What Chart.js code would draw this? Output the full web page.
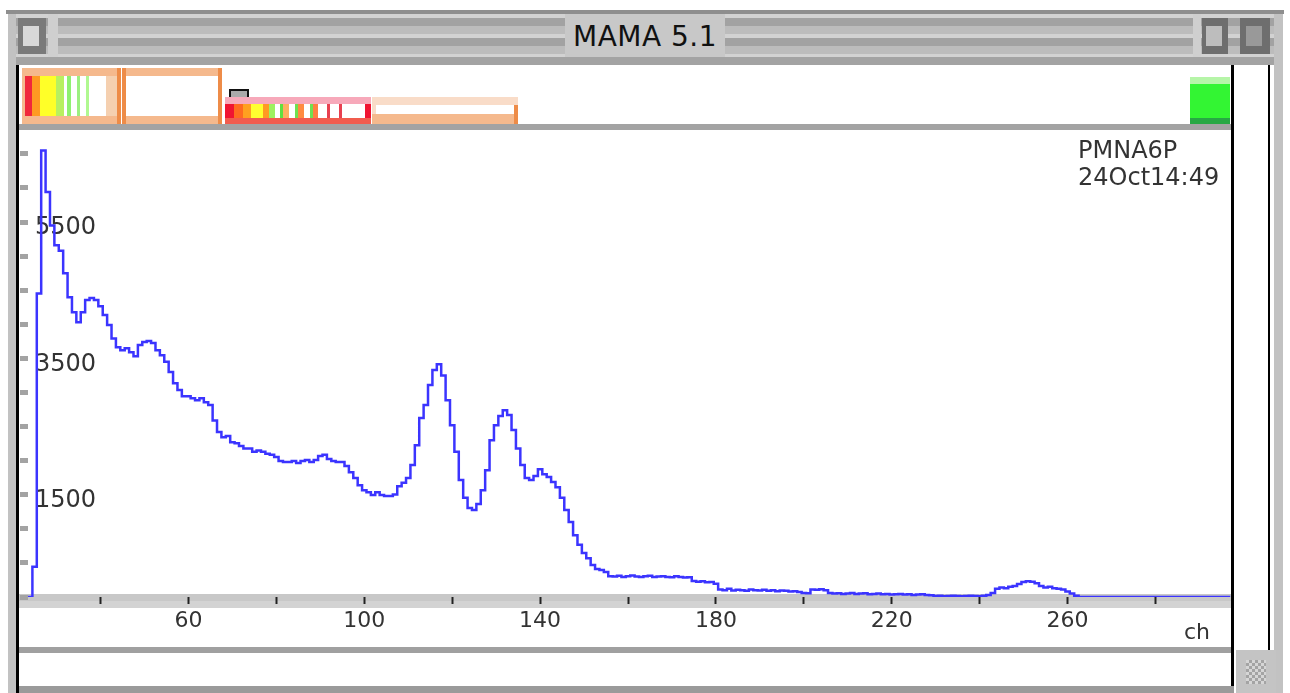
<!DOCTYPE html>
<html lang="en">
<head>
    <title>MAMA 5.1</title>
    <script src="https://cdn.jsdelivr.net/npm/chart.js"></script>
    <style>
        body { margin: 0; background: #fff; width: 1290px; height: 693px; overflow: hidden; position: relative; font-family: "DejaVu Sans", sans-serif; }
        .abs { position: absolute; }
        .stripes { background: repeating-linear-gradient(to bottom, #d2d2d2 0 4px, #a2a2a2 4px 12px, #bcbcbc 12px 20px); }
        #spectrum { position: absolute; left: 20px; top: 130px; z-index: 2; }
        .txt { position: absolute; color: #333; font-family: "DejaVu Sans", sans-serif; z-index: 3; }
    </style>
</head>
<body>
    <!-- window frame -->
    <div class="abs" style="left:6px;top:10px;width:1278px;height:4px;background:#8e8e8e"></div>
    <div class="abs" style="left:8px;top:14px;width:8px;height:679px;background:#c2c2c2"></div>
    <div class="abs" style="left:1274px;top:14px;width:9px;height:679px;background:#c2c2c2"></div>
    <div class="abs stripes" style="left:16px;top:14px;width:1258px;height:43px"></div>
    <div class="abs" style="left:18px;top:18px;width:28px;height:36px;background:#7a7a7a"></div>
    <div class="abs" style="left:23px;top:26px;width:16px;height:20px;background:#d8d8d8"></div>
    <div class="abs" style="left:48px;top:14px;width:10px;height:43px;background:#cfcfcf"></div>
    <div class="abs" style="left:565px;top:14px;width:160px;height:43px;background:#c8c8c8"></div>
    <div class="abs" style="left:565px;top:20px;width:160px;text-align:center;font-size:28px;color:#111;letter-spacing:0.5px">MAMA 5.1</div>
    <div class="abs" style="left:1193px;top:14px;width:8px;height:43px;background:#cfcfcf"></div>
    <div class="abs" style="left:1202px;top:18px;width:26px;height:36px;background:#6e6e6e"></div>
    <div class="abs" style="left:1206px;top:26px;width:16px;height:20px;background:#bdbdbd"></div>
    <div class="abs" style="left:1240px;top:18px;width:30px;height:36px;background:#6e6e6e"></div>
    <div class="abs" style="left:1246px;top:26px;width:16px;height:20px;background:#999"></div>
    <div class="abs" style="left:16px;top:57px;width:1258px;height:8px;background:#a3a3a3"></div>

    <!-- left and right borders -->
    <div class="abs" style="left:16px;top:65px;width:3px;height:628px;background:#000"></div>
    <div class="abs" style="left:1231px;top:65px;width:3px;height:628px;background:#000"></div>
    <div class="abs" style="left:1268px;top:65px;width:2px;height:585px;background:#000"></div>

    <!-- toolbar -->
    <div class="abs" style="left:22px;top:68px;width:98px;height:57px;background:#f5b98d"></div>
    <div class="abs" style="left:25px;top:76px;width:92px;height:40px;background:linear-gradient(to right,#f0283c 0 8%,#ff9a22 8% 16%,#ffff28 16% 34%,#b8f060 34% 42%,#fff 42% 46%,#8ef070 46% 50%,#fff 50% 56%,#9cf080 56% 60%,#fff 60% 66%,#b0f890 66% 70%,#fff 70% 88%,#f5d0b0 88% 100%)"></div>
    <div class="abs" style="left:117px;top:68px;width:4px;height:57px;background:#ee8c48"></div>
    <div class="abs" style="left:122px;top:68px;width:100px;height:57px;background:#f5b98d"></div>
    <div class="abs" style="left:126px;top:76px;width:92px;height:40px;background:#fff"></div>
    <div class="abs" style="left:122px;top:68px;width:4px;height:57px;background:#ee8c48"></div>
    <div class="abs" style="left:218px;top:68px;width:4px;height:57px;background:#ee8c48"></div>
    <div class="abs" style="left:229px;top:89px;width:16px;height:11px;border:2px solid #111;border-bottom:none;background:#aaa"></div>
    <div class="abs" style="left:225px;top:97px;width:146px;height:28px;background:#f7a9ba"></div>
    <div class="abs" style="left:225px;top:104px;width:146px;height:14px;background:linear-gradient(to right,#f01432 0 6%,#ff6a20 6% 12%,#ffa020 12% 18%,#ffff30 18% 26%,#ff9a22 26% 30%,#9ef060 30% 34%,#fff 34% 38%,#60e040 38% 40%,#ffb060 40% 44%,#fff 44% 48%,#70e050 48% 50%,#ff8a40 50% 54%,#fff 54% 58%,#6ee050 58% 60%,#ff8040 60% 64%,#fff 64% 70%,#e84050 70% 72%,#fff 72% 78%,#e84050 78% 80%,#fff 80% 96%,#f01432 96% 100%)"></div>
    <div class="abs" style="left:225px;top:118px;width:146px;height:7px;background:#f15c4e"></div>
    <div class="abs" style="left:372px;top:97px;width:146px;height:28px;background:#f9dcc8"></div>
    <div class="abs" style="left:376px;top:105px;width:138px;height:9px;background:#fff"></div>
    <div class="abs" style="left:372px;top:114px;width:146px;height:11px;background:#f5b98d"></div>
    <div class="abs" style="left:514px;top:105px;width:4px;height:20px;background:#ee8c48"></div>
    <div class="abs" style="left:1190px;top:77px;width:40px;height:48px;background:linear-gradient(to bottom,#b6f5a8 0 14%,#33f533 14% 85%,#27a844 85% 100%)"></div>
    <div class="abs" style="left:19px;top:124px;width:1212px;height:6px;background:#a3a3a3"></div>

    <!-- x axis band -->
    <div class="abs" style="left:19px;top:594px;width:1212px;height:7px;background:#c8c8c8;z-index:1"></div>
    <div class="abs" style="left:19px;top:601px;width:1212px;height:7px;background:#d3d3d3;z-index:1"></div>

    <!-- status strip -->
    <div class="abs" style="left:19px;top:647px;width:1212px;height:6px;background:#a0a0a0"></div>
    <div class="abs" style="left:19px;top:686px;width:1215px;height:7px;background:#9a9a9a"></div>
    <div class="abs" style="left:1236px;top:650px;width:40px;height:43px;background:#c4c4c4"></div>
    <div class="abs" style="left:1246px;top:660px;width:20px;height:24px;background:repeating-conic-gradient(#a4a4a4 0 25%,#d6d6d6 0 50%) 0 0/6px 6px"></div>

    <canvas id="spectrum" width="1212" height="520"></canvas>

    <div class="txt" style="left:1078px;top:137px;font-size:24px;line-height:27px">PMNA6P<br>24Oct14:49</div>
    <div class="txt" style="left:1184px;top:619px;font-size:22px">ch</div>

    <script>
        // channel spectrum, one value per channel starting at firstChannel
        const firstChannel = 22;
        const counts = [
            0, 0, 0, 445, 4450, 6550, 5940, 5450, 5160, 5080,
            4750, 4395, 4175, 4030, 4175, 4355, 4385, 4355, 4265, 4135,
            3990, 3790, 3665, 3620, 3650, 3590, 3530, 3695, 3740, 3755,
            3725, 3620, 3545, 3450, 3300, 3135, 3035, 2945, 2945, 2915,
            2885, 2915, 2855, 2815, 2590, 2420, 2345, 2360, 2270, 2255,
            2215, 2180, 2180, 2130, 2150, 2130, 2100, 2085, 2055, 1995,
            1980, 1980, 1995, 1965, 1995, 2010, 1980, 2010, 2070, 2085,
            2025, 1995, 1980, 1980, 1920, 1830, 1745, 1640, 1565, 1535,
            1495, 1535, 1495, 1480, 1480, 1505, 1625, 1675, 1745, 1935,
            2225, 2625, 2815, 3110, 3330, 3415, 3250, 2885, 2520, 2130,
            1715, 1455, 1305, 1275, 1365, 1565, 1860, 2300, 2520, 2655,
            2740, 2670, 2450, 2180, 1935, 1745, 1715, 1775, 1875, 1800,
            1760, 1685, 1610, 1455, 1275, 1100, 905, 765, 645, 570,
            470, 410, 395, 365,
            // 156 - 174
            305, 300, 310, 295, 305, 315, 300, 295, 305, 310, 295, 300, 305, 295, 290, 305, 295, 285, 290,
            // 175 - 180
            235, 225, 230, 215, 220, 195,
            // 181 - 199
            110, 100, 120, 95, 105, 100, 90, 110, 100, 95, 105, 90, 100, 85, 95, 90, 80, 85, 75,
            // 200 - 229
            60, 55, 110, 105, 115, 100, 60, 50, 55, 45, 50, 60, 45, 50, 55, 40, 45, 50, 40, 45,
            35, 40, 45, 35, 40, 30, 35, 40, 30, 25,
            // 230 - 243
            15, 20, 10, 15, 20, 15, 10, 15, 20, 15, 10, 20, 30, 60,
            // 244 - 262
            120, 140, 130, 150, 160, 190, 220, 230, 225, 200, 160, 140, 150, 130, 120, 110, 80, 50, 20,
            // 263 - 297
            0, 0, 0, 0, 0, 0, 0, 0, 0, 0, 0, 0, 0, 0, 0, 0, 0, 0, 0, 0,
            0, 0, 0, 0, 0, 0, 0, 0, 0, 0, 0, 0, 0, 0, 0
        ];

        const xTicks = [40, 60, 80, 100, 120, 140, 160, 180, 200, 220, 240, 260, 280];
        const xLabels = [60, 100, 140, 180, 220, 260];
        const yTicks = [0, 500, 1000, 1500, 2000, 2500, 3000, 3500, 4000, 4500, 5000, 5500, 6000, 6500];
        const yLabels = [1500, 3500, 5500];

        const points = counts.map((c, i) => ({ x: firstChannel + i, y: c }));

        const ctx = document.getElementById('spectrum').getContext('2d');
        new Chart(ctx, {
            type: 'line',
            data: {
                datasets: [{
                    data: points,
                    borderColor: '#3b34ff',
                    borderWidth: 2.5,
                    stepped: 'middle',
                    pointRadius: 0,
                    fill: false
                }]
            },
            options: {
                responsive: false,
                animation: false,
                devicePixelRatio: 1,
                layout: { padding: 0 },
                plugins: { legend: { display: false }, tooltip: { enabled: false } },
                scales: {
                    x: {
                        type: 'linear',
                        min: 23.5,
                        max: 297.4,
                        afterBuildTicks: s => { s.ticks = xTicks.map(v => ({ value: v })); },
                        afterFit: s => { s.height = 53; s.paddingLeft = 0; s.paddingRight = 0; },
                        border: { display: false },
                        grid: { drawOnChartArea: false, tickLength: 7, tickWidth: 2, tickColor: '#222' },
                        ticks: {
                            autoSkip: false,
                            maxRotation: 0,
                            padding: 4,
                            color: '#333',
                            font: { family: 'DejaVu Sans', size: 22 },
                            callback: v => xLabels.includes(v) ? String(v) : ''
                        }
                    },
                    y: {
                        min: 0,
                        max: 6850,
                        afterBuildTicks: s => { s.ticks = yTicks.map(v => ({ value: v })); },
                        afterFit: s => { s.width = 8; s.paddingTop = 0; s.paddingBottom = 0; },
                        border: { display: false },
                        grid: { drawOnChartArea: false, tickLength: 8, tickWidth: 5, tickColor: '#a3a3a3' },
                        ticks: {
                            mirror: true,
                            padding: 7,
                            labelOffset: 6,
                            color: '#333',
                            font: { family: 'DejaVu Sans', size: 24 },
                            callback: v => yLabels.includes(v) ? String(v) : ''
                        }
                    }
                }
            }
        });
    </script>
</body>
</html>
